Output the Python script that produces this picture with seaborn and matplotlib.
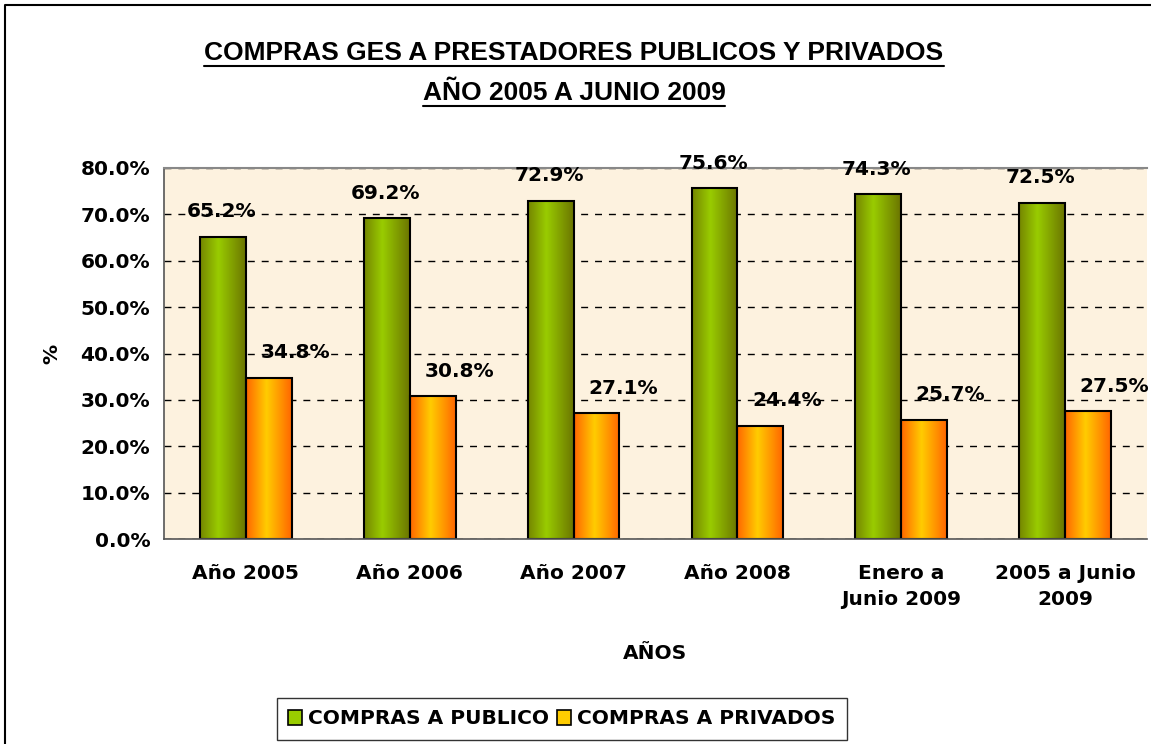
import numpy as np
import pandas as pd
import matplotlib
matplotlib.use("Agg")
import matplotlib.pyplot as plt
import seaborn as sns
from matplotlib.colors import LinearSegmentedColormap
from matplotlib.patches import Patch
from matplotlib.lines import Line2D
from matplotlib.ticker import PercentFormatter, MultipleLocator

# Datos
categorias = ["Año 2005", "Año 2006", "Año 2007", "Año 2008",
              "Enero a\nJunio 2009", "2005 a Junio\n2009"]
publico = [0.652, 0.692, 0.729, 0.756, 0.743, 0.725]
privado = [0.348, 0.308, 0.271, 0.244, 0.257, 0.275]
series = ["COMPRAS A PUBLICO", "COMPRAS A PRIVADOS"]

df = pd.DataFrame({
    "categoria": categorias * 2,
    "serie": [series[0]] * len(categorias) + [series[1]] * len(categorias),
    "valor": publico + privado,
})

sns.set_style("white")
plt.rcParams["font.family"] = ["DejaVu Sans"]
plt.rcParams["font.weight"] = "bold"
plt.rcParams["text.color"] = "black"
plt.rcParams["axes.labelcolor"] = "black"
plt.rcParams["xtick.color"] = "black"
plt.rcParams["ytick.color"] = "black"

fig = plt.figure(figsize=(11.51, 7.44), dpi=100)
ax = fig.add_axes([0.1425, 0.2755, 0.854, 0.4987])
ax.set_facecolor("#fdf2df")

sns.barplot(data=df, x="categoria", y="valor", hue="serie",
            palette=["#99cc00", "#ffcc00"], width=0.56, saturation=1,
            edgecolor="black", linewidth=1.5, legend=False, ax=ax)

# degradado tipo Excel en las barras
grad = np.linspace(0, 1, 256).reshape(1, -1)
cmaps = [
    LinearSegmentedColormap.from_list("verde", [(0, "#758500"), (0.4, "#99cc00"), (1, "#6b7500")]),
    LinearSegmentedColormap.from_list("naranja", [(0, "#ff6600"), (0.45, "#ffcc00"), (1, "#ff6600")]),
]
for cont, cmap in zip(ax.containers, cmaps):
    for bar in cont:
        x0, w, h = bar.get_x(), bar.get_width(), bar.get_height()
        ax.imshow(grad, cmap=cmap, aspect="auto", extent=[x0, x0 + w, 0, h], zorder=1.5)
        bar.set_facecolor("none")
        bar.set_zorder(2)

ax.set_xlim(-0.5, len(categorias) - 0.5)
ax.set_ylim(0, 0.8)

# etiquetas de datos
dxs = [-1, 19]
for cont, dx in zip(ax.containers, dxs):
    for bar in cont:
        h = bar.get_height()
        ax.annotate(f"{h * 100:.1f}%", xy=(bar.get_x() + bar.get_width() / 2, h),
                    xytext=(dx, 18), textcoords="offset points",
                    ha="center", va="center", fontsize=14.5, fontweight="bold", zorder=3)

# ejes
ax.yaxis.set_major_locator(MultipleLocator(0.1))
ax.yaxis.set_major_formatter(PercentFormatter(1.0, decimals=1))
ax.yaxis.grid(True, linestyle=(0, (5, 5)), color="black", linewidth=1)
ax.set_axisbelow(True)
ax.set_xticks(np.arange(-0.5, len(categorias), 1), minor=True)
ax.tick_params(axis="x", which="major", length=0, pad=18, labelsize=14.5)
ax.tick_params(axis="x", which="minor", length=6, direction="out", color="#555555", width=1.2)
ax.tick_params(axis="y", length=6, direction="out", color="#555555", width=1.2, labelsize=14.5, pad=4)
for lbl in ax.get_xticklabels():
    lbl.set_linespacing(1.45)
    lbl.set_fontweight("bold")
for lbl in ax.get_yticklabels():
    lbl.set_fontweight("bold")

for s in ["left", "bottom"]:
    ax.spines[s].set_color("#555555")
    ax.spines[s].set_linewidth(1.2)
ax.spines["top"].set_color("#888888")
ax.spines["top"].set_linewidth(1.5)
ax.spines["right"].set_visible(False)

ax.set_xlabel("AÑOS", fontsize=14.5, fontweight="bold")
ax.xaxis.set_label_coords(0.5, -0.283)
ax.set_ylabel("%", fontsize=14.5, fontweight="bold")
ax.yaxis.set_label_coords(-0.104, 0.5)

# leyenda
handles = [Patch(facecolor="#99cc00", edgecolor="black", linewidth=1.2),
           Patch(facecolor="#ffcc00", edgecolor="black", linewidth=1.2)]
leg = fig.legend(handles, series, loc="center", bbox_to_anchor=(562 / 1151, 1 - 719 / 744),
                 ncol=2, frameon=True, fancybox=False, edgecolor="black",
                 fontsize=14.5, handlelength=0.7, handleheight=0.7,
                 handletextpad=0.3, columnspacing=0.4, borderpad=0.55, borderaxespad=0)
leg.get_frame().set_linewidth(1)
for t in leg.get_texts():
    t.set_fontweight("bold")

# titulo subrayado
titulos = ["COMPRAS GES A PRESTADORES PUBLICOS Y PRIVADOS", "AÑO 2005 A JUNIO 2009"]
ys = [1 - 53 / 744, 1 - 93 / 744]
textos = [fig.text(0.4987, y, t, ha="center", va="center", fontsize=19, fontweight="bold",
                   family=["Liberation Sans", "DejaVu Sans"], color="black")
          for t, y in zip(titulos, ys)]
fig.canvas.draw()
inv = fig.transFigure.inverted()
for t in textos:
    bb = t.get_window_extent()
    (x0, y0), (x1, _) = inv.transform([(bb.x0, bb.y0 - 1), (bb.x1, bb.y0 - 1)])
    fig.add_artist(Line2D([x0, x1], [y0, y0], color="black", linewidth=1.5))

# marco de la figura
fig.add_artist(Line2D([5 / 1151, 5 / 1151, 1], [0, 1 - 5 / 744, 1 - 5 / 744],
                      color="black", linewidth=1.5))

fig.savefig("out.png", dpi=100)
